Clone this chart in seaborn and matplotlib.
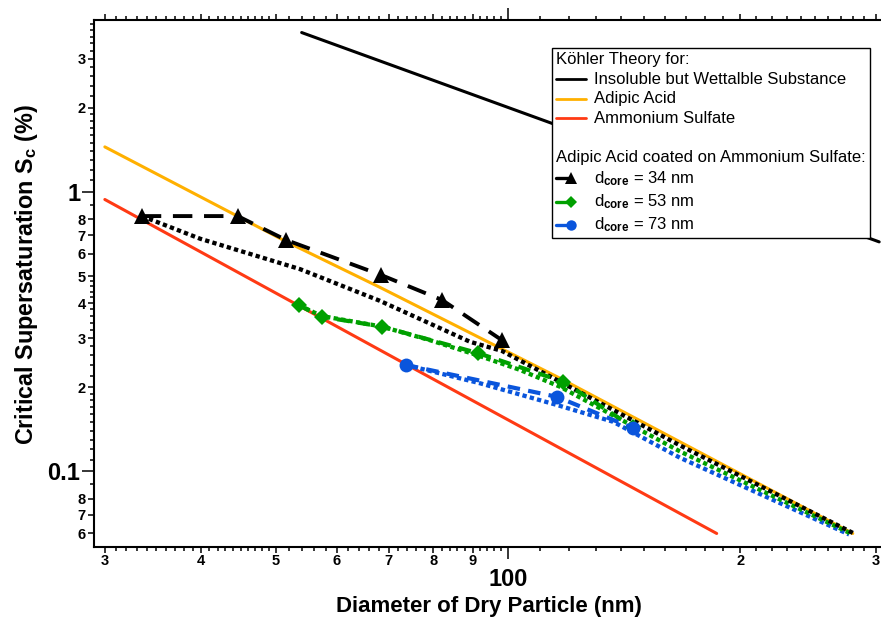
import numpy as np
import matplotlib
matplotlib.use("Agg")
import matplotlib.pyplot as plt
from matplotlib.lines import Line2D
from matplotlib.offsetbox import AnchoredOffsetbox, VPacker, HPacker, TextArea, DrawingArea
import seaborn as sns

sns.set_style("ticks", {"axes.edgecolor": "black", "xtick.color": "black", "ytick.color": "black",
                        "text.color": "black", "axes.labelcolor": "black"})
plt.rcParams['font.family'] = ['Liberation Sans', 'DejaVu Sans']
plt.rcParams['font.weight'] = 'bold'
plt.rcParams['mathtext.fontset'] = 'custom'
plt.rcParams['mathtext.rm'] = 'Liberation Sans'
plt.rcParams['mathtext.bf'] = 'Liberation Sans:bold'
plt.rcParams['mathtext.it'] = 'Liberation Sans:italic'

# Koehler theory curves (dry diameter nm, critical supersaturation %)
insol_d = [54.0, 113.4, 303.0]
insol_sc = [3.72, 1.77, 0.663]
adipic_d = [30, 51.7, 68.2, 116.8, 280]
adipic_sc = [1.45, 0.662, 0.456, 0.2156, 0.060]
amsulf_d = [30, 73.7, 186.5]
amsulf_sc = [0.94, 0.242, 0.060]

# measured: adipic acid coated on ammonium sulfate
d34 = [33.5, 44.6, 51.5, 68.4, 82.1, 98.2]
sc34 = [0.82, 0.82, 0.674, 0.505, 0.411, 0.295]
d53 = [53.5, 57.3, 68.6, 91.5, 117.9, 145.3]
sc53 = [0.394, 0.358, 0.330, 0.265, 0.2096, 0.144]
d73 = [73.7, 115.7, 145.4]
sc73 = [0.2405, 0.185, 0.1428]

# model curves for the coated particles (dotted)
m34_d = [33.5, 39.9, 53.7, 68.2, 89.3, 98.2, 116.8, 167.1, 281]
m34_sc = [0.82, 0.68, 0.53, 0.408, 0.291, 0.27, 0.2096, 0.124, 0.060]
m53_d = [53.5, 57.3, 68.6, 79.2, 91.5, 103.6, 116.8, 167.1, 279]
m53_sc = [0.394, 0.36, 0.33, 0.295, 0.26, 0.231, 0.201, 0.118, 0.0598]
m73_d = [73.7, 92.0, 115.7, 136.9, 167.1, 277]
m73_sc = [0.2405, 0.2068, 0.173, 0.1506, 0.112, 0.0595]

BLACK = '#000000'
ORANGE = '#FFB000'
RED = '#FF3A14'
GREEN = '#00A000'
BLUE = '#0A55DC'
dots = (0, (1, 0.75))

fig = plt.figure(figsize=(8.81, 6.18), dpi=100)
ax = fig.add_axes([93.5 / 881, 1 - 546.7 / 618, (884 - 93.5) / 881, (546.7 - 20) / 618])
ax.set_xscale('log')
ax.set_yscale('log')

line_kw = dict(ax=ax, estimator=None, sort=False, legend=False)
sns.lineplot(x=insol_d, y=insol_sc, color=BLACK, lw=2.2, **line_kw)
sns.lineplot(x=adipic_d, y=adipic_sc, color=ORANGE, lw=2.2, **line_kw)
sns.lineplot(x=amsulf_d, y=amsulf_sc, color=RED, lw=2.2, **line_kw)

sns.lineplot(x=m73_d, y=m73_sc, color=BLUE, lw=3.1, linestyle=dots, **line_kw)
sns.lineplot(x=m53_d, y=m53_sc, color=GREEN, lw=3.1, linestyle=dots, **line_kw)
sns.lineplot(x=m34_d, y=m34_sc, color=BLACK, lw=3.1, linestyle=dots, **line_kw)

sns.lineplot(x=d34, y=sc34, color=BLACK, lw=2.8, linestyle=(0, (5, 3)), marker='^', ms=12,
             markeredgecolor=BLACK, markeredgewidth=0, **line_kw)
sns.lineplot(x=d53, y=sc53, color=GREEN, lw=3.0, linestyle=(0, (3, 2)), marker='D', ms=8.5,
             markeredgecolor=GREEN, markeredgewidth=0, **line_kw)
sns.lineplot(x=d73, y=sc73, color=BLUE, lw=3.0, linestyle=(0, (3, 2)), marker='o', ms=10,
             markeredgecolor=BLUE, markeredgewidth=0, **line_kw)

ax.set_xlim(29.0, 307.4)
ax.set_ylim(0.0538, 4.125)

# Igor-like log ticks: big labelled majors, labelled minors, tiny unlabelled minors
x_minor_lab = [30, 40, 50, 60, 70, 80, 90, 200, 300]
x_minor_txt = ['3', '4', '5', '6', '7', '8', '9', '2', '3']
x_small = list(range(31, 40)) + list(range(41, 50)) + [52, 54, 56, 58, 62, 64, 66, 68, 72, 74, 76, 78,
                                                       82, 84, 86, 88, 92, 94, 96, 98] \
    + list(range(110, 200, 10)) + list(range(210, 300, 10))
y_minor_lab = [0.06, 0.07, 0.08, 0.2, 0.3, 0.4, 0.5, 0.6, 0.7, 0.8, 2, 3]
y_minor_txt = ['6', '7', '8', '2', '3', '4', '5', '6', '7', '8', '2', '3']
y_small = [0.09] + [round(v, 2) for v in np.arange(0.11, 0.195, 0.01)] \
    + [0.22, 0.24, 0.26, 0.28, 0.32, 0.34, 0.36, 0.38, 0.42, 0.44, 0.46, 0.48, 0.9] \
    + [1.1, 1.2, 1.3, 1.4, 1.5, 1.6, 1.7, 1.8, 1.9, 2.2, 2.4, 2.6, 2.8, 3.2, 3.4, 3.6, 3.8, 4.0]

ax.set_xticks([100], ['100'])
ax.set_xticks(x_minor_lab + x_small, x_minor_txt + [''] * len(x_small), minor=True)
ax.set_yticks([0.1, 1], ['0.1', '1'])
ax.set_yticks(y_minor_lab + y_small, y_minor_txt + [''] * len(y_small), minor=True)

ax.tick_params(which='major', direction='out', length=8.5, width=1.1, top=True, right=False,
               labelsize=17)
ax.tick_params(which='minor', direction='out', length=4.3, width=1.1, top=True, right=False,
               labelsize=10.5, pad=1.2)
ax.tick_params(axis='x', which='major', pad=6.5)
ax.tick_params(axis='y', which='major', pad=1)
for axis, n_lab, n_all in [(ax.xaxis, len(x_minor_lab), len(x_minor_lab) + len(x_small)),
                           (ax.yaxis, len(y_minor_lab), len(y_minor_lab) + len(y_small))]:
    for i, t in enumerate(axis.get_minor_ticks(n_all)):
        if i >= n_lab:
            t.tick1line.set_markersize(2.9)
            t.tick2line.set_markersize(2.9)

for s in ax.spines.values():
    s.set_linewidth(1.5)

ax.set_xlabel('Diameter of Dry Particle (nm)', fontsize=16, fontweight='bold')
ax.set_ylabel(r'Critical Supersaturation S$_{\mathbf{c}}$ (%)', fontsize=16.8, fontweight='bold')
ax.yaxis.set_label_coords(-0.068, 0.517)
ax.xaxis.set_label_coords(0.5, -0.094)

# legend box built from offset boxes (headers are flush left, keys have marker at line end)
fs = 12
tp = dict(size=fs, weight='normal')


def key(color, marker=None, ms=0):
    da = DrawingArea(21.6, 8)
    if marker is None:
        da.add_artist(Line2D([0, 21.6], [4, 4], color=color, lw=2))
    else:
        da.add_artist(Line2D([0, 11], [4, 4], color=color, lw=2.4))
        da.add_artist(Line2D([11], [4], marker=marker, ms=ms, color=color, mec=color, mew=0))
    return da


def row(da, label):
    return HPacker(children=[da, TextArea(label, textprops=tp)], align='center', pad=0, sep=5.8)


rows = [
    TextArea('Köhler Theory for:', textprops=tp),
    row(key(BLACK), 'Insoluble but Wettalble Substance'),
    row(key(ORANGE), 'Adipic Acid'),
    row(key(RED), 'Ammonium Sulfate'),
    TextArea(' ', textprops=tp),
    TextArea('Adipic Acid coated on Ammonium Sulfate:', textprops=tp),
    row(key(BLACK, '^', 8), r'd$_{\mathrm{core}}$ = 34 nm'),
    row(key(GREEN, 'D', 6.5), r'd$_{\mathrm{core}}$ = 53 nm'),
    row(key(BLUE, 'o', 7.5), r'd$_{\mathrm{core}}$ = 73 nm'),
]
box = VPacker(children=rows, align='left', pad=0, sep=3.2)
leg = AnchoredOffsetbox(loc='upper left', child=box, pad=0.3, borderpad=0, frameon=True,
                        bbox_to_anchor=((551.7 - 93.5) / (884 - 93.5), 1 - (48.3 - 20) / 526.7),
                        bbox_transform=ax.transAxes)
leg.patch.set_linewidth(1.0)
leg.patch.set_edgecolor('black')
ax.add_artist(leg)

fig.savefig('out.png', dpi=100)
